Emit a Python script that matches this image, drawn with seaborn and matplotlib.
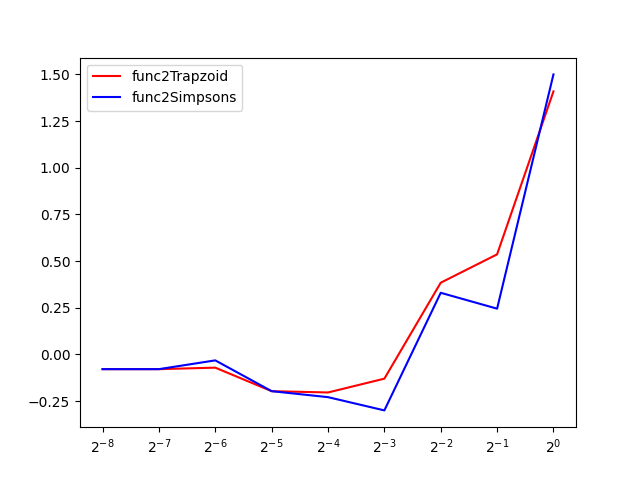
import numpy as np
import pandas as pd
import seaborn as sns
import matplotlib
matplotlib.use("Agg")
import matplotlib.pyplot as plt

# step sizes 2^-8 .. 2^0
h = [2.0 ** k for k in range(-8, 1)]
trapezoid = [-0.079, -0.079, -0.071, -0.197, -0.204, -0.130, 0.384, 0.536, 1.409]
simpsons = [-0.079, -0.079, -0.032, -0.197, -0.229, -0.300, 0.330, 0.245, 1.500]

df = pd.DataFrame({"h": h, "func2Trapzoid": trapezoid, "func2Simpsons": simpsons})
long = pd.melt(df, id_vars=["h"], var_name="method", value_name="value")

fig, ax = plt.subplots(figsize=(6.4, 4.8), dpi=100)
sns.lineplot(data=long, x="h", y="value", hue="method",
             palette={"func2Trapzoid": "red", "func2Simpsons": "blue"}, ax=ax)
ax.set_xscale("log", base=2)
ax.set_xlabel("")
ax.set_ylabel("")
ax.legend(loc="upper left")

fig.savefig("out.png", dpi=100)
